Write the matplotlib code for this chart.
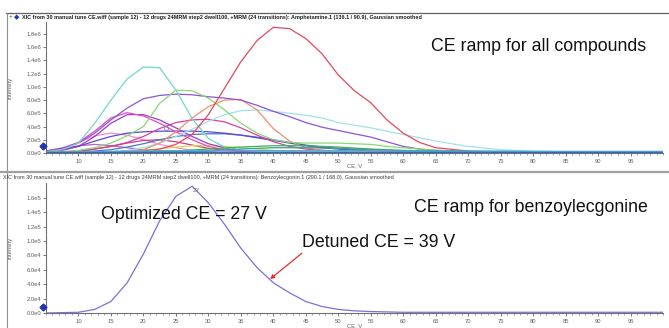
import numpy as np
import matplotlib.pyplot as plt
from matplotlib.ticker import MultipleLocator, FixedLocator

plt.rcParams['font.family'] = ['Liberation Sans', 'DejaVu Sans']

# collision energy grid (V)
ce = [5, 7.5, 10, 12.5, 15, 17.5, 20, 22.5, 25, 27.5, 30, 32.5, 35, 37.5, 40,
      42.5, 45, 47.5, 50, 52.5, 55, 57.5, 60, 62.5, 65, 70, 75, 80, 85, 90, 95, 100]

# top panel: all compounds, intensity in units of 1e5
red = [0.1, 0.1, 0.1, 0.1, 0.1, 0.15, 0.3, 0.6, 1.3, 2.8, 5.8, 9.8, 13.8, 17.0, 19.0,
       18.8, 17.3, 15.0, 11.8, 9.4, 7.6, 5.0, 3.0, 1.6, 0.8, 0.3, 0.15, 0.1, 0.1, 0.1, 0.1, 0.1]
turquoise = [0.2, 0.5, 1.5, 4.5, 8.0, 11.2, 13.0, 12.9, 9.5, 5.2, 2.2, 0.9, 0.4, 0.3, 0.2,
             0.15, 0.15, 0.15, 0.15, 0.1, 0.1, 0.1, 0.1, 0.1, 0.1, 0.1, 0.1, 0.1, 0.1, 0.1, 0.1, 0.1]
green = [0.1, 0.2, 0.4, 0.8, 1.5, 2.6, 4.0, 7.5, 9.5, 9.4, 8.3, 6.5, 4.5, 3.0, 2.0,
         1.6, 1.5, 1.5, 1.5, 1.4, 1.3, 1.0, 0.8, 0.6, 0.4, 0.2, 0.15, 0.1, 0.1, 0.1, 0.1, 0.1]
purple = [0.3, 0.7, 1.5, 3.0, 5.0, 6.8, 8.2, 8.7, 8.9, 8.8, 8.5, 8.3, 8.0, 7.2, 6.3,
          5.5, 4.6, 3.9, 3.4, 2.9, 2.4, 1.7, 1.0, 0.6, 0.4, 0.25, 0.15, 0.1, 0.1, 0.1, 0.1, 0.1]
orange = [0.1, 0.1, 0.1, 0.1, 0.15, 0.2, 0.5, 1.5, 3.2, 5.3, 7.0, 8.0, 8.1, 6.5, 3.7,
          1.8, 0.8, 0.4, 0.3, 0.2, 0.15, 0.1, 0.1, 0.1, 0.1, 0.1, 0.1, 0.1, 0.1, 0.1, 0.1, 0.1]
pale_cyan = [0.1, 0.1, 0.1, 0.15, 0.2, 0.4, 0.8, 1.5, 2.5, 3.6, 4.8, 5.8, 6.4, 6.5, 6.3,
             6.0, 5.7, 5.3, 4.6, 4.2, 3.8, 3.3, 2.8, 2.3, 1.8, 1.0, 0.5, 0.3, 0.2, 0.15, 0.15, 0.15]
magenta = [0.2, 0.6, 1.6, 3.3, 5.3, 6.1, 5.6, 4.5, 3.2, 2.0, 1.0, 0.5, 0.3, 0.2, 0.15,
           0.15, 0.1, 0.1, 0.1, 0.1, 0.1, 0.1, 0.1, 0.1, 0.1, 0.1, 0.1, 0.1, 0.1, 0.1, 0.1, 0.1]
violet = [0.2, 0.4, 1.0, 2.5, 4.5, 5.8, 5.8, 5.0, 3.8, 2.5, 1.4, 0.8, 0.4, 0.3, 0.2,
          0.15, 0.1, 0.1, 0.1, 0.1, 0.1, 0.1, 0.1, 0.1, 0.1, 0.1, 0.1, 0.1, 0.1, 0.1, 0.1, 0.1]
rose = [0.1, 0.2, 0.3, 0.6, 1.0, 1.6, 2.5, 3.7, 4.6, 5.0, 5.1, 4.7, 3.8, 2.7, 1.7,
        1.0, 0.6, 0.4, 0.3, 0.2, 0.15, 0.1, 0.1, 0.1, 0.1, 0.1, 0.1, 0.1, 0.1, 0.1, 0.1, 0.1]
indigo = [0.2, 0.5, 1.0, 1.8, 2.5, 3.0, 3.2, 3.3, 3.3, 3.3, 3.2, 3.0, 2.7, 2.3, 1.9,
          1.5, 1.1, 0.8, 0.6, 0.4, 0.3, 0.25, 0.2, 0.15, 0.15, 0.1, 0.1, 0.1, 0.1, 0.1, 0.1, 0.1]
steel = [0.1, 0.15, 0.2, 0.3, 0.5, 0.9, 1.4, 2.0, 2.5, 2.8, 2.9, 2.9, 2.7, 2.4, 2.0,
         1.6, 1.2, 0.9, 0.7, 0.5, 0.4, 0.3, 0.25, 0.2, 0.2, 0.15, 0.15, 0.1, 0.1, 0.1, 0.1, 0.1]
pink = [0.3, 0.8, 1.6, 2.6, 3.0, 2.7, 2.0, 1.3, 0.8, 0.4, 0.2, 0.15, 0.1, 0.1, 0.1,
        0.1, 0.1, 0.1, 0.1, 0.1, 0.1, 0.1, 0.1, 0.1, 0.1, 0.1, 0.1, 0.1, 0.1, 0.1, 0.1, 0.1]
orchid = [0.3, 0.7, 1.1, 1.3, 1.1, 0.8, 0.5, 0.3, 0.2, 0.15, 0.1, 0.1, 0.1, 0.1, 0.1,
          0.1, 0.1, 0.1, 0.1, 0.1, 0.1, 0.1, 0.1, 0.1, 0.1, 0.1, 0.1, 0.1, 0.1, 0.1, 0.1, 0.1]
crimson_low = [0.1, 0.15, 0.3, 0.6, 1.0, 1.5, 1.9, 2.0, 1.7, 1.2, 0.7, 0.4, 0.25, 0.2, 0.15,
               0.1, 0.1, 0.1, 0.1, 0.1, 0.1, 0.1, 0.1, 0.1, 0.1, 0.1, 0.1, 0.1, 0.1, 0.1, 0.1, 0.1]
yellow = [0.1, 0.1, 0.1, 0.1, 0.1, 0.1, 0.3, 0.6, 0.9, 1.1, 1.1, 1.0, 0.8, 0.6, 0.4,
          0.3, 0.2, 0.15, 0.1, 0.1, 0.1, 0.1, 0.1, 0.1, 0.1, 0.1, 0.1, 0.1, 0.1, 0.1, 0.1, 0.1]
green_low = [0.05, 0.05, 0.05, 0.1, 0.1, 0.15, 0.2, 0.25, 0.3, 0.45, 0.6, 0.75, 0.9, 1.0, 1.1,
             1.1, 1.1, 1.0, 0.9, 0.75, 0.6, 0.5, 0.4, 0.35, 0.3, 0.2, 0.15, 0.15, 0.15, 0.15, 0.15, 0.15]
teal_low = [0.05, 0.05, 0.05, 0.05, 0.1, 0.1, 0.1, 0.15, 0.2, 0.25, 0.3, 0.45, 0.6, 0.7, 0.8,
            0.8, 0.8, 0.75, 0.7, 0.6, 0.5, 0.4, 0.35, 0.3, 0.3, 0.25, 0.2, 0.2, 0.2, 0.2, 0.2, 0.2]
sky_low = [0.1, 0.15, 0.2, 0.2, 0.25, 0.3, 0.3, 0.35, 0.35, 0.35, 0.35, 0.35, 0.35, 0.35, 0.35,
           0.35, 0.35, 0.35, 0.35, 0.35, 0.35, 0.35, 0.3, 0.3, 0.3, 0.3, 0.3, 0.25, 0.25, 0.25, 0.25, 0.25]
navy_low = [0.05, 0.05, 0.05, 0.05, 0.05, 0.05, 0.05, 0.05, 0.05, 0.05, 0.05, 0.05, 0.05, 0.05, 0.05,
            0.05, 0.05, 0.05, 0.05, 0.05, 0.05, 0.05, 0.05, 0.05, 0.05, 0.05, 0.05, 0.05, 0.05, 0.05, 0.05, 0.05]
blue_low = [0.15, 0.15, 0.15, 0.15, 0.15, 0.15, 0.15, 0.15, 0.15, 0.15, 0.15, 0.15, 0.15, 0.15, 0.15,
            0.15, 0.15, 0.15, 0.15, 0.15, 0.15, 0.15, 0.15, 0.15, 0.15, 0.15, 0.15, 0.15, 0.15, 0.15, 0.15, 0.15]

top_series = [
    (pink, '#f08cd0'), (orchid, '#c060c8'), (crimson_low, '#d03a88'),
    (yellow, '#e6d24a'), (steel, '#4a78c8'), (indigo, '#5a4ad6'),
    (rose, '#d8409e'), (violet, '#9a3ec8'), (magenta, '#e44cc4'),
    (pale_cyan, '#9fe2ea'), (orange, '#f0906a'), (purple, '#8a55d8'),
    (green, '#88d870'), (turquoise, '#72d8c6'), (red, '#e5485e'),
    (green_low, '#40b050'), (teal_low, '#2fa0a8'), (sky_low, '#50a8e0'),
    (navy_low, '#203080'), (blue_low, '#2f68c0'),
]

# bottom panel: benzoylecgonine, intensity in units of 1e4
benzoyl = [0.0, 0.05, 0.1, 0.5, 1.6, 4.2, 8.2, 12.8, 16.2, 17.6, 15.3, 12.3, 9.0, 6.3, 4.2,
           2.8, 1.6, 0.9, 0.5, 0.3, 0.2, 0.15, 0.1, 0.1, 0.1, 0.1, 0.1, 0.1, 0.1, 0.1, 0.1, 0.1]

top_title = ("XIC from 30 manual tune CE.wiff (sample 12) - 12 drugs 24MRM step2 dwell100, "
             "+MRM (24 transitions): Amphetamine.1 (136.1 / 90.9), Gaussian smoothed")
bottom_title = ("XIC from 30 manual tune CE.wiff (sample 12) - 12 drugs 24MRM step2 dwell100, "
                "+MRM (24 transitions): Benzoylecgonin.1 (290.1 / 168.0), Gaussian smoothed")
top_yticks = [0, 2e5, 4e5, 6e5, 8e5, 1e6, 1.2e6, 1.4e6, 1.6e6, 1.8e6]
top_ylabels = ['0.0e0', '2.0e5', '4.0e5', '6.0e5', '8.0e5', '1.0e6', '1.2e6', '1.4e6', '1.6e6', '1.8e6']
bot_yticks = [0, 2e4, 4e4, 6e4, 8e4, 1e5, 1.2e5, 1.4e5, 1.6e5]
bot_ylabels = ['0.0e0', '2.0e4', '4.0e4', '6.0e4', '8.0e4', '1.0e5', '1.2e5', '1.4e5', '1.6e5']
xticks = list(range(10, 100, 5))

W, H = 669, 328
fig = plt.figure(figsize=(W / 100, H / 100), dpi=100)
fig.patch.set_facecolor('white')


def px_box(x0, y0, x1, y1):
    # pixel box (top-left origin) -> figure fraction rect
    return [x0 / W, 1 - y1 / H, (x1 - x0) / W, (y1 - y0) / H]


def style_axes(ax, yticks, ylabels, ymax):
    ax.set_xlim(5, 100)
    ax.set_ylim(0, ymax)
    for s in ('top', 'right'):
        ax.spines[s].set_visible(False)
    for s in ('left', 'bottom'):
        ax.spines[s].set_color('#707070')
        ax.spines[s].set_linewidth(0.8)
    ax.xaxis.set_major_locator(FixedLocator(xticks))
    ax.xaxis.set_minor_locator(MultipleLocator(1))
    ax.set_xticklabels([str(t) for t in xticks])
    ax.yaxis.set_major_locator(FixedLocator(yticks))
    ax.set_yticklabels(ylabels)
    ax.tick_params(axis='both', which='major', labelsize=4.2, colors='#606060',
                   length=2, width=0.6, pad=1.5)
    ax.tick_params(axis='x', which='minor', length=1.2, width=0.5, colors='#808080')
    ax.tick_params(axis='x', which='major', pad=2.5)
    ax.set_xlabel('CE, V', fontsize=4.2, color='#606060', labelpad=-0.5)
    ax.set_ylabel('Intensity', fontsize=4.2, color='#606060', labelpad=10)
    ax.set_facecolor('white')


# top panel
ax1 = fig.add_axes(px_box(46, 22, 663, 153))
for vals, col in top_series:
    ax1.plot(ce, np.array(vals) * 1e5, color=col, lw=0.9, solid_joinstyle='round')
style_axes(ax1, top_yticks, top_ylabels, 1.98e6)
ax1.plot([4.5], [1.0e5], marker='D', ms=3.5, color='#2034b4', clip_on=False, zorder=5)
ax1.plot([23.4], [3.8e5], marker='o', ms=3, mfc='none', mec='#8080a0', mew=0.6)
ax1.text(0.799, 0.81, 'CE ramp for all compounds', transform=ax1.transAxes,
         fontsize=12.8, ha='center', va='center', color='#111111')

# bottom panel
ax2 = fig.add_axes(px_box(46, 183, 663, 313))
ax2.plot(ce, np.array(benzoyl) * 1e4, color='#7b70d8', lw=0.9)
style_axes(ax2, bot_yticks, bot_ylabels, 1.805e5)
ax2.plot([4.5], [0.8e4], marker='D', ms=3.5, color='#2034b4', clip_on=False, zorder=5)
ax2.text(27.6, 16.6e4, '27', fontsize=4.5, color='#707080', ha='left', va='bottom')
ax2.text(0.786, 0.815, 'CE ramp for benzoylecgonine', transform=ax2.transAxes,
         fontsize=12.8, ha='center', va='center', color='#111111')
ax2.text(0.224, 0.754, 'Optimized CE = 27 V', transform=ax2.transAxes,
         fontsize=12.8, ha='center', va='center', color='#111111')
ax2.text(0.415, 0.546, 'Detuned CE = 39 V', transform=ax2.transAxes,
         fontsize=12.8, ha='left', va='center', color='#111111')
ax2.annotate('', xy=(39.5, 4.7e4), xytext=(44.4, 8.3e4),
             arrowprops=dict(arrowstyle='-|>', color='#e03030', lw=0.9,
                             mutation_scale=6, shrinkA=0, shrinkB=0))

# panel frames and headers
fig.add_artist(plt.Line2D([6 / W, 1], [1 - 13 / H] * 2, color='#606060', lw=0.9))
fig.add_artist(plt.Line2D([7 / W] * 2, [0, 1 - 13 / H], color='#909090', lw=0.8))
fig.add_artist(plt.Line2D([0, 1], [1 - 172 / H] * 2, color='#a0a0a0', lw=1.6))
fig.text(9 / W, 1 - 17 / H, '+', fontsize=4.5, color='#206020', va='center', ha='left')
fig.text(14 / W, 1 - 17 / H, '\u25c6', fontsize=5, color='#2034b4', va='center', ha='left',
         family='DejaVu Sans')
fig.text(22 / W, 1 - 17 / H, top_title, fontsize=3.95, fontweight='bold',
         color='#202020', va='center', ha='left')
fig.text(3 / W, 1 - 177 / H, bottom_title, fontsize=4.0,
         color='#404040', va='center', ha='left')

fig.savefig('out.png', dpi=100)
